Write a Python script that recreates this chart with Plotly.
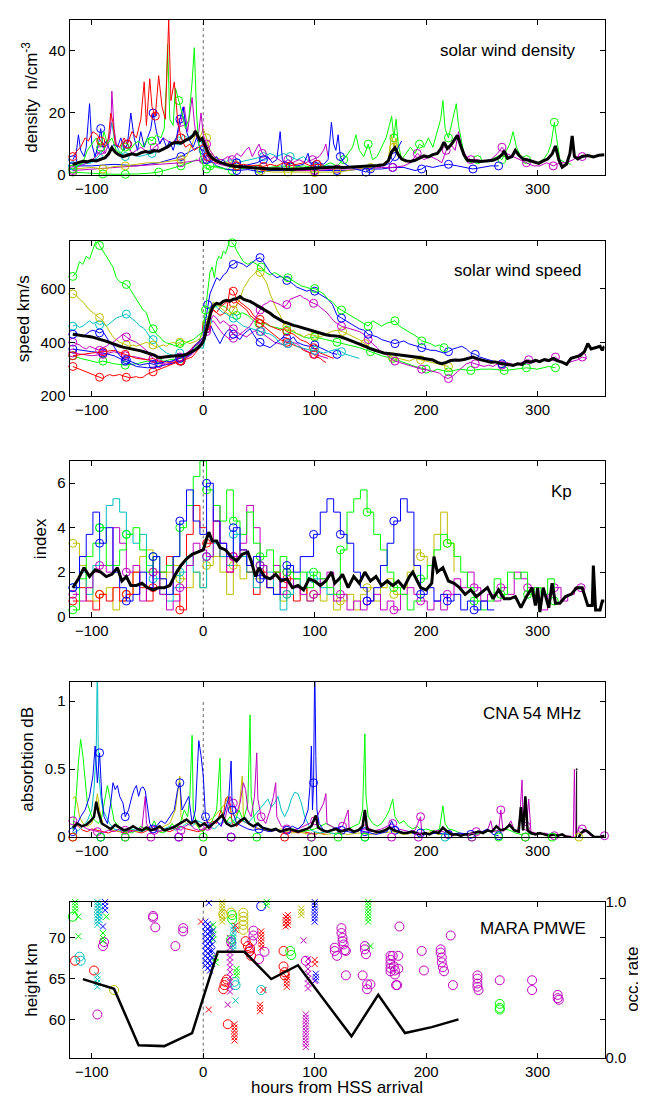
import plotly.graph_objects as go

FONT = "Liberation Sans, Arial, Helvetica, sans-serif"
COL = {"g": "#00ff00", "r": "#ff0000", "b": "#0000ff", "c": "#00bfbf", "m": "#bf00bf", "y": "#bfbf00", "k": "#000000"}

X_RANGE = [-120, 360]
X_TICKS = [-100, 0, 100, 200, 300]

# ---------------- panel 1: solar wind density ----------------
den_mean = [(-117,3.5),(-112,4.2),(-108,4.5),(-104,4.3),(-100,4.8),(-96,4.6),(-92,5.2),(-88,5.6),(-85,6.8),(-82,8.8),(-79,7.4),(-76,6.6),(-72,6.0),(-68,6.4),(-64,6.9),(-60,6.5),(-56,7.2),(-52,7.6),(-48,7.3),(-44,7.9),(-40,7.7),(-36,8.4),(-32,9.1),(-28,10.2),(-24,10.6),(-20,10.3),(-16,11.2),(-12,11.8),(-9,12.8),(-7,14.2),(-5,12.4),(-3,11.2),(-1,11.8),(1,10.0),(3,8.2),(5,6.8),(8,5.6),(11,4.8),(15,4.1),(19,3.6),(24,3.1),(30,2.8),(36,2.6),(42,2.5),(48,2.4),(54,2.2),(60,2.0),(66,2.1),(72,1.9),(78,1.8),(84,2.0),(90,2.1),(96,2.3),(102,2.4),(108,2.6),(114,2.7),(120,2.6),(126,2.5),(132,2.6),(138,2.7),(144,2.8),(150,3.0),(156,3.1),(162,3.4),(166,4.6),(169,7.5),(172,8.8),(175,6.6),(178,5.2),(182,4.6),(186,4.4),(190,4.8),(194,5.6),(198,6.2),(202,5.9),(206,6.6),(210,7.0),(213,8.4),(216,10.6),(219,8.6),(222,9.6),(225,11.0),(228,12.8),(231,9.5),(234,6.5),(237,4.8),(242,4.6),(248,4.4),(254,4.6),(260,4.8),(264,5.4),(268,6.6),(270,7.8),(273,5.4),(277,6.0),(280,8.0),(283,6.5),(287,5.2),(292,4.8),(297,4.2),(301,3.8),(305,4.6),(309,5.2),(313,6.8),(316,9.4),(319,5.0),(322,2.6),(326,3.6),(329,7.0),(331,12.6),(333,6.0),(336,5.2),(340,6.0),(345,6.3),(350,5.9),(355,6.4),(360,6.6)]
den_r = [(-117,6),(-113,8),(-110,9),(-106,12),(-103,11),(-99,14),(-95,13),(-92,11),(-88,9),(-85,12),(-83,20),(-81,17),(-79,10),(-75,9),(-71,12),(-68,10),(-64,14),(-60,12),(-56,18),(-53,30),(-51,16),(-48,31),(-46,22),(-43,19),(-40,32),(-37,22),(-34,18),(-31,50),(-29,24),(-26,30),(-23,18),(-20,12),(-16,9),(-12,10),(-8,8),(-4,9),(0,10),(4,6),(8,5),(12,4),(18,4),(24,3.5),(30,3),(36,3.5),(42,3),(48,3.2),(54,2.8),(60,3.5),(66,3),(72,4),(78,3),(84,3.5),(90,4),(96,3),(102,3.5),(108,3.2)]
den_g1 = [(-117,2),(-112,3),(-108,4),(-104,8),(-100,10),(-96,12),(-92,9),(-89,14),(-86,10),(-82,12),(-78,8),(-74,7),(-70,9),(-66,8),(-62,10),(-58,11),(-54,9),(-50,12),(-46,11),(-42,13),(-38,12),(-35,15),(-33,30),(-32,42),(-30,18),(-27,16),(-25,28),(-22,24),(-19,20),(-16,15),(-13,18),(-10,30),(-8,41),(-6,20),(-4,10),(-2,6),(0,3),(3,2),(6,2.5),(10,3),(15,2.5),(20,2)]
den_g2 = [(-117,1),(-110,0.8),(-100,0.5),(-90,0.4),(-80,0.3),(-70,0.3),(-60,0.4),(-50,0.6),(-40,1.0),(-30,2),(-20,3),(-12,4),(-6,5),(0,4),(6,3),(12,2.5),(20,2),(26,1.5),(32,2),(40,2.5),(50,2),(60,2.5),(70,3),(80,2.5),(90,3),(100,2.5),(108,3),(114,4),(120,3),(126,5),(130,7),(134,9),(137,13),(140,8),(144,6),(148,10),(152,5),(156,6),(160,9),(164,12),(167,16),(169,19),(171,12),(173,18),(175,10),(178,5),(182,7),(186,9),(190,7),(194,10),(198,9),(202,12),(206,9),(210,14),(213,18),(215,24),(217,15),(220,12),(224,18),(227,23),(229,16),(232,10),(235,5),(240,4),(246,5),(252,4.5),(258,5),(264,6),(268,5),(272,8),(275,10),(278,14),(281,9),(285,6),(290,5),(295,4.5),(300,4),(305,5),(309,7),(312,10),(315,17),(317,12),(320,5),(325,4),(330,3.5)]
den_b1 = [(-117,5),(-114,7),(-112,13),(-110,8),(-107,6),(-105,9),(-102,23),(-100,10),(-97,6),(-94,10),(-92,15),(-90,9),(-87,11),(-84,8),(-80,10),(-77,9),(-74,12),(-71,8),(-68,10),(-65,20),(-62,12),(-59,8),(-56,14),(-53,9),(-50,12),(-47,15),(-45,20),(-42,14),(-39,10),(-36,12),(-33,9),(-30,11),(-27,8),(-24,12),(-21,18),(-18,22),(-15,14),(-12,11),(-9,9),(-6,12),(-3,9),(0,7),(3,5),(6,4),(9,5),(12,6),(15,4),(18,5),(21,3.5),(24,3),(30,4),(36,3),(42,3.5),(48,4),(54,5),(58,6),(62,4),(66,5),(69,14),(71,5),(74,3),(78,4),(84,3),(90,3.5),(94,7),(96,4),(100,3),(104,4),(108,3.5),(112,5),(115,17),(117,10),(119,8),(121,13),(123,6),(126,4),(130,3),(136,2),(142,1.5),(146,1),(150,2),(156,3),(162,3),(168,4),(172,6),(175,9),(178,11)]
den_b2 = [(-117,3),(-100,3),(-80,3.5),(-60,3),(-40,4),(-20,6),(-5,9),(0,8),(6,5),(12,3),(20,2),(30,1.5),(40,1.8),(50,1.2),(60,1.5),(70,1.5),(80,1.3),(90,1.5),(100,1.5),(110,1.5),(120,1.5),(130,1.5),(140,2),(150,2),(160,2),(170,2.5),(180,2.5),(190,1.5),(196,2),(200,3),(206,2.5),(212,3),(220,3.5),(228,3),(236,2.5),(242,2),(250,2.5),(258,3),(265,3)]
den_m1 = [(-117,2),(-110,3),(-104,4),(-100,5),(-96,6),(-92,8),(-88,7),(-85,10),(-83,15),(-82,27),(-80,15),(-78,10),(-75,9),(-72,8),(-68,10),(-64,7),(-60,8),(-56,9),(-52,8),(-48,7),(-44,9),(-40,10),(-36,12),(-32,11),(-28,10),(-24,12),(-20,17),(-17,22),(-14,14),(-12,20),(-10,25),(-8,17),(-6,12),(-4,14),(-2,20),(0,13),(3,10),(6,8),(10,6),(14,5),(18,5),(22,6),(26,5),(30,7),(34,6),(38,8),(41,9),(44,6),(47,8),(50,10),(53,7),(56,6),(60,5),(64,6),(68,5),(72,4),(76,5),(80,4),(86,5),(92,4),(98,5),(104,6),(108,8),(110,10),(112,6)]
den_m2 = [(-117,1.5),(-100,2),(-80,2.5),(-60,3),(-40,3.5),(-20,4),(0,5),(20,3),(40,2.5),(60,2),(80,1.5),(100,1.5),(120,2),(140,2),(160,2.5),(170,2.5),(180,3),(186,4),(192,7),(198,5),(204,6),(210,5),(214,4),(218,8),(222,10),(226,8),(229,14),(232,9),(236,6),(240,5),(246,5),(252,4.5),(258,5),(264,7),(268,9),(272,7),(278,6),(284,5),(290,4),(296,3),(302,3),(308,4),(314,3),(320,4),(326,4),(332,5),(336,6),(340,6)]
den_c = [(-117,3),(-110,3.5),(-100,4),(-94,6),(-90,8),(-86,10),(-82,17),(-80,12),(-76,8),(-70,6),(-64,7),(-58,6),(-52,6.5),(-46,7),(-40,8),(-34,9),(-28,10),(-22,11),(-18,13),(-14,12),(-10,13),(-6,14),(-3,12),(0,9),(4,6),(8,5),(12,4.5),(18,4),(24,5),(30,4),(36,4.5),(42,5),(48,5.5),(54,6),(60,7),(66,6),(72,7),(78,6),(84,5),(90,6),(96,4),(102,3.5),(108,3),(114,3),(120,2.5)]
den_y = [(-117,2),(-100,2.5),(-90,2),(-80,2.8),(-70,3),(-60,3.5),(-50,4),(-40,4),(-30,4.5),(-20,5),(-15,6),(-10,10),(-6,14),(-3,12),(0,15),(3,12),(6,8),(10,6),(16,5),(22,4),(28,3.5),(34,3),(40,2.5),(46,2),(52,1.5),(58,1.2),(64,1),(70,1),(76,1),(82,0.8),(88,1),(94,0.8),(100,0.8),(110,1),(120,1),(130,1.5),(140,2),(150,2.5),(160,3),(166,5),(169,13),(171,9),(173,12),(175,6),(178,5),(182,4)]

# ---------------- panel 2: solar wind speed ----------------
sp_mean = [(-117,430),(-112,428),(-108,425),(-104,422),(-100,420),(-96,416),(-92,410),(-88,405),(-84,398),(-80,392),(-76,387),(-72,382),(-68,379),(-64,376),(-60,373),(-56,368),(-52,363),(-48,358),(-44,352),(-41,345),(-38,343),(-35,345),(-31,348),(-27,349),(-23,350),(-19,351),(-15,355),(-11,362),(-7,372),(-4,382),(-1,395),(1,415),(3,450),(5,485),(7,515),(9,535),(12,545),(15,542),(18,552),(21,556),(24,553),(27,560),(30,562),(33,570),(36,560),(39,556),(42,552),(45,545),(48,538),(51,532),(54,525),(57,515),(60,508),(63,498),(66,490),(69,482),(72,476),(75,472),(78,467),(81,463),(84,460),(87,456),(90,452),(93,448),(96,444),(99,441),(102,437),(106,432),(110,428),(114,425),(118,424),(122,422),(126,416),(130,410),(134,404),(138,398),(142,392),(146,384),(150,376),(154,370),(158,364),(162,360),(166,358),(170,356),(174,355),(178,353),(182,351),(186,348),(190,345),(194,343),(198,340),(202,338),(206,334),(210,325),(214,320),(218,325),(222,332),(226,334),(230,333),(234,336),(238,341),(242,345),(246,338),(250,333),(254,330),(258,326),(262,327),(266,322),(270,319),(274,317),(278,314),(282,320),(286,318),(290,330),(294,326),(298,333),(302,328),(306,336),(310,332),(314,340),(318,331),(322,326),(326,318),(330,340),(334,345),(338,350),(342,365),(345,395),(348,375),(352,380),(356,385),(358,370),(360,385)]
sp_g1 = [(-117,645),(-114,660),(-111,700),(-108,690),(-105,720),(-102,710),(-99,745),(-96,780),(-93,760),(-90,740),(-87,720),(-84,700),(-81,680),(-78,640),(-75,625),(-72,620),(-69,615),(-66,600),(-63,580),(-60,560),(-57,545),(-54,520),(-51,510),(-48,470),(-45,450),(-42,430),(-39,420),(-36,405),(-33,398),(-30,395),(-27,390),(-24,385),(-21,395),(-18,390),(-15,400),(-12,405),(-9,410),(-6,420),(-3,430),(0,440),(2,520),(4,600),(6,660),(8,680),(10,640),(12,700),(14,720),(16,710),(18,740),(20,730),(22,760),(24,780),(26,770),(28,760),(30,740),(33,720),(36,700),(40,690),(44,700),(48,690),(52,680),(56,660),(60,650),(64,660),(68,650),(72,640),(76,640),(80,630),(84,620),(88,610),(92,605),(96,600),(100,600),(104,590),(108,580),(112,560),(116,550),(120,530),(124,520),(128,510),(132,500),(136,490),(140,480),(144,470),(148,460),(152,480),(156,470),(160,460),(164,470),(168,475),(172,480),(176,460),(180,450),(184,440),(188,430),(192,420),(196,405),(200,400),(204,395),(208,385),(212,390),(216,380)]
sp_g2 = [(-117,350),(-110,340),(-100,330),(-95,325),(-90,330),(-80,320),(-70,315),(-60,320),(-50,330),(-40,325),(-30,335),(-20,340),(-10,360),(-4,400),(0,450),(3,470),(6,510),(10,530),(15,540),(20,530),(25,510),(30,500),(35,510),(40,500),(45,480),(50,470),(55,470),(60,460),(65,455),(70,450),(75,445),(80,440),(85,430),(90,420),(95,415),(100,420),(110,410),(120,400),(130,390),(140,380),(150,365),(160,350),(170,340),(180,325),(190,310),(200,300),(205,290),(210,300),(215,295),(220,290),(230,300),(240,295),(250,300),(260,300),(270,295),(280,300),(290,305),(300,300),(310,310),(316,305)]
sp_y = [(-117,580),(-114,575),(-111,560),(-108,550),(-105,535),(-102,520),(-99,510),(-96,500),(-93,492),(-90,480),(-87,460),(-84,440),(-81,420),(-78,410),(-75,400),(-72,395),(-69,390),(-66,385),(-63,390),(-60,385),(-57,390),(-54,395),(-51,400),(-48,395),(-45,390),(-42,380),(-39,385),(-36,390),(-33,385),(-30,395),(-27,400),(-24,395),(-21,400),(-18,405),(-15,400),(-12,395),(-9,400),(-6,405),(-3,415),(0,430),(3,470),(6,520),(9,550),(12,540),(15,530),(18,520),(21,510),(24,500),(27,520),(30,540),(33,560),(36,600),(39,620),(42,640),(45,650),(48,665),(51,660),(54,640),(57,620),(60,580),(63,550),(66,520),(69,500),(72,470),(75,460),(78,440),(81,445),(84,430),(87,430),(90,420),(95,430),(100,425),(105,420),(110,430),(115,440),(120,445),(125,440),(130,430),(135,420),(140,410),(145,395),(150,380),(155,370),(160,365),(165,355),(170,345),(175,340),(180,335),(185,330),(190,340),(195,335),(200,330),(205,325),(210,320),(215,315),(220,310)]
sp_c = [(-117,460),(-114,465),(-111,455),(-108,460),(-105,470),(-102,480),(-99,470),(-96,475),(-93,465),(-90,470),(-87,460),(-84,470),(-81,480),(-78,490),(-75,495),(-72,500),(-69,505),(-66,495),(-63,485),(-60,475),(-57,460),(-54,455),(-51,440),(-48,420),(-45,410),(-42,395),(-39,380),(-36,370),(-33,360),(-30,355),(-27,350),(-24,355),(-21,360),(-18,350),(-15,355),(-12,365),(-9,370),(-6,375),(-3,380),(0,378),(2,420),(4,480),(6,520),(8,540),(10,545),(12,530),(15,520),(18,510),(21,505),(24,495),(27,490),(30,480),(33,470),(36,460),(40,455),(44,450),(48,445),(52,440),(56,435),(60,430),(64,420),(68,400),(72,390),(76,395),(80,400),(84,385),(88,380),(92,375),(96,370),(100,370),(104,365),(108,360),(112,365),(116,370),(120,375),(124,365),(128,355),(132,350),(136,345),(140,340)]
sp_b1 = [(-117,430),(-114,435),(-111,425),(-108,420),(-105,430),(-102,440),(-99,445),(-96,440),(-93,435),(-90,440),(-87,420),(-84,400),(-81,390),(-78,370),(-75,350),(-72,340),(-69,335),(-66,330),(-63,325),(-60,320),(-57,315),(-54,318),(-51,320),(-48,322),(-45,318),(-42,320),(-39,322),(-36,325),(-33,330),(-30,328),(-27,332),(-24,335),(-21,340),(-18,345),(-15,350),(-12,360),(-9,380),(-6,395),(-3,405),(0,420),(2,480),(4,540),(6,580),(8,600),(10,620),(12,640),(15,630),(18,650),(21,660),(24,685),(27,690),(30,700),(33,695),(36,690),(39,680),(42,690),(45,700),(48,710),(51,715),(54,700),(57,680),(60,660),(63,650),(66,640),(69,645),(72,640),(75,630),(78,625),(81,615),(84,605),(87,600),(90,595),(93,590),(96,595),(100,590),(104,580),(108,570),(112,560),(116,540),(120,500),(124,490),(128,480),(132,470),(136,460),(140,450),(144,445),(148,430),(152,425),(156,420),(160,410),(164,405),(168,400),(172,395),(176,400),(180,405),(184,395),(188,390),(192,385),(196,380),(200,375),(204,370),(208,370),(212,365),(216,360),(220,365),(224,375),(228,380),(232,385),(236,375),(240,360),(244,355),(248,345),(252,340),(256,335),(260,330),(264,325),(268,320)]
sp_b2 = [(-117,375),(-110,370),(-100,365),(-90,360),(-80,350),(-70,330),(-60,310),(-50,305),(-40,310),(-30,320),(-20,330),(-10,360),(0,410),(3,450),(6,470),(9,440),(12,420),(15,395),(18,420),(21,440),(24,450),(27,430),(30,420),(33,410),(36,430),(39,440),(42,450),(45,430),(48,410),(51,400),(54,390),(57,385),(60,380),(63,390),(66,400),(69,410),(72,420),(75,415),(78,410),(81,420),(84,400),(87,395),(90,390),(95,385),(100,390),(105,380),(110,370),(115,360),(120,355)]
sp_r1 = [(-117,310),(-114,305),(-111,300),(-108,295),(-105,290),(-102,285),(-99,280),(-96,275),(-93,270),(-90,265),(-87,275),(-84,280),(-81,275),(-78,278),(-75,280),(-72,275),(-69,270),(-66,268),(-63,270),(-60,272),(-57,268),(-54,270),(-51,280),(-48,285),(-45,290),(-42,295),(-39,300),(-36,305),(-33,310),(-30,315),(-27,320),(-24,325),(-21,330),(-18,335),(-15,345),(-12,365),(-9,385),(-6,395),(-3,405),(0,420),(3,460),(6,500),(9,520),(12,510),(15,530),(18,540),(21,550),(24,560),(27,545),(30,550),(33,540),(36,530),(39,520),(42,500),(45,490),(48,480),(51,470),(54,460),(57,450),(60,440),(63,430),(66,420),(69,410),(72,405),(75,400),(78,395),(81,390),(84,385),(87,380),(90,370),(93,365),(96,360),(99,355),(102,345),(105,340),(108,330),(110,325)]
sp_r2 = [(-117,350),(-110,355),(-100,360),(-90,365),(-80,370),(-70,355),(-60,340),(-50,335),(-45,340),(-40,330),(-30,325),(-20,330),(-10,345),(-5,370),(0,400),(3,450),(6,500),(9,520),(12,510),(15,500),(18,505),(21,520),(24,600),(27,590),(30,560),(33,550),(36,540),(39,530),(42,520),(45,500),(48,490),(51,485),(54,475),(57,470),(60,460),(63,455),(66,450),(69,445),(72,450),(75,440),(78,435),(81,430),(84,420),(87,410),(90,405),(93,400),(96,390),(99,380),(102,370),(105,360),(108,355),(111,350),(114,345),(117,340)]
sp_m1 = [(-117,400),(-114,395),(-111,390),(-108,380),(-105,375),(-102,385),(-99,380),(-96,375),(-93,370),(-90,380),(-87,385),(-84,395),(-81,400),(-78,410),(-75,420),(-72,430),(-69,420),(-66,410),(-63,405),(-60,400),(-57,390),(-54,380),(-51,370),(-48,355),(-45,340),(-42,330),(-39,325),(-36,320),(-33,318),(-30,322),(-27,330),(-24,340),(-21,345),(-18,355),(-15,360),(-12,370),(-9,380),(-6,390),(-3,400),(0,410),(3,450),(6,480),(9,500),(12,490),(15,470),(18,480),(21,470),(24,460),(27,450),(30,440),(33,430),(36,440),(39,450),(42,460),(45,480),(48,500),(51,520),(54,540),(57,545),(60,555),(63,550),(66,545),(69,540),(72,530),(75,540),(78,560),(81,565),(84,570),(87,575),(90,565),(93,560),(96,550),(99,545),(102,540),(105,530),(108,520),(111,510),(114,495),(117,480),(120,470),(124,460),(128,455),(132,450),(136,445),(140,440),(144,430),(148,410),(152,395),(156,380),(160,360),(164,355),(168,340),(172,330),(176,325),(180,320),(184,315),(188,310),(192,305),(196,300),(200,298),(204,295),(208,290),(212,285),(216,270),(220,265),(224,275),(228,290),(232,305),(236,320),(240,325),(244,320),(248,315),(252,310),(256,315),(260,310),(264,320),(268,315),(272,325),(276,320),(280,315),(284,320),(288,330),(292,335),(296,325),(300,330),(304,335),(308,330),(312,340),(316,345),(320,330),(324,320),(328,325),(332,330),(336,335),(340,345),(344,340)]
sp_m2 = [(-117,360),(-110,355),(-100,350),(-90,355),(-80,365),(-70,350),(-60,345),(-50,335),(-40,320),(-30,318),(-20,330),(-10,355),(0,400),(3,440),(6,470),(9,480),(12,460),(15,445),(18,430),(21,420),(24,410),(27,415),(30,420),(33,430),(36,425),(39,420),(42,430),(45,440),(48,445),(51,440),(54,430),(57,420),(60,410),(64,400),(68,395),(72,390),(76,395),(80,400),(84,395),(88,380),(92,370),(96,360),(100,355),(104,350),(108,345),(112,340)]

# ---------------- panel 3: Kp (3-hourly values, every 6 h from -117) ----------------
KP_START = -117
kp_b = [1.3,2.7,3.7,4.7,3.3,4.0,2.0,1.3,0.7,1.0,2.0,1.3,2.7,1.7,1.0,2.7,4.3,5.7,4.3,3.7,6.0,4.3,3.3,2.7,4.0,3.0,2.3,2.7,1.7,1.3,1.0,1.7,2.3,2.0,2.7,2.7,3.7,4.7,5.3,4.7,3.7,3.3,2.0,1.3,0.7,1.3,2.3,3.3,4.3,5.3,4.7,2.3,1.0,1.3,0.7,1.0,0.7,1.0,0.3,0.7,0.3,0.7,0.3,0.3]
kp_g = [0.3,1.7,2.7,3.3,4.0,2.3,2.3,3.0,3.7,4.0,3.0,2.0,2.7,2.0,2.3,2.7,4.0,5.0,6.3,7.0,5.7,5.0,4.3,5.7,4.3,3.7,4.7,3.3,2.7,3.0,2.0,2.7,2.0,1.7,2.0,1.3,2.0,1.7,1.3,1.0,3.0,4.7,5.3,5.7,4.7,3.7,3.0,2.0,1.3,1.0,0.3,0.7,1.7,2.3,3.0,3.7,3.3,2.7,2.0,1.3,0.7,0.3,0.7,1.7,1.0,2.0,1.7,2.0,1.0,1.3,1.0,1.7,0.7]
kp_c = [1.3,2.0,1.0,2.3,4.0,5.0,5.3,4.7,3.7,3.3,3.7,2.3,1.7,1.0,0.7,1.3,2.0,2.7,2.0,1.3,2.7,3.3,2.7,2.3,3.7,2.7,2.0,1.3,2.3,2.0,1.0,0.3,1.0,1.7,1.3,2.0,1.7,1.3,1.0,1.3]
kp_r = [0.7,1.3,0.7,0.3,1.0,0.7,1.3,0.7,1.0,2.0,1.3,0.7,1.3,2.0,2.7,1.0,0.3,3.7,5.0,4.0,3.3,4.3,2.7,2.0,2.7,3.0,2.0,1.0,2.0,1.3,2.0,1.3,1.7,0.7,1.3,1.0]
kp_m = [1.0,0.7,1.3,2.0,2.3,2.0,4.0,3.3,2.0,2.3,0.7,1.3,2.0,1.0,0.3,0.7,1.3,2.3,3.3,3.0,2.7,5.0,3.3,2.0,2.7,3.3,5.0,4.0,2.3,1.7,2.3,1.0,2.0,1.3,1.0,0.7,1.0,1.7,2.0,0.7,1.0,0.3,0.7,0.3,0.7,1.0,0.3,0.7,0.3,1.0,1.3,1.0,0.7,0.3,0.7,0.3,1.0,1.7,1.3,2.0,1.3,0.7,1.0,0.7,1.3,1.0,2.0,1.7,1.3,0.7,0.3,1.0,1.3,0.7,1.0,1.3,1.3]
kp_y = [3.3,2.3,1.3,0.7,1.0,1.3,0.3,0.7,1.0,2.0,2.7,3.0,2.0,1.7,2.0,2.3,1.7,1.3,2.0,1.3,2.3,2.7,2.0,1.0,2.3,1.7,2.0,1.7,2.3,1.3,2.0,0.7,1.0,1.7,1.3,0.7,1.0,0.7,1.0,0.3,0.7,1.0,0.3,1.0,1.3,0.7,1.3,1.7,1.0,1.3,2.0,3.0,2.7,2.3,3.7,4.7,3.3,2.0]
kp_mean = [(-117,1.3),(-112,1.7),(-107,2.2),(-102,1.8),(-97,2.1),(-92,2.0),(-87,1.8),(-82,1.9),(-77,2.2),(-73,1.6),(-69,1.8),(-65,1.4),(-60,1.4),(-55,1.5),(-50,1.3),(-45,1.2),(-40,1.3),(-35,1.3),(-30,1.4),(-25,1.9),(-20,2.3),(-15,2.6),(-10,2.8),(-5,2.9),(0,3.0),(3,3.5),(5,3.8),(8,3.4),(12,3.4),(15,3.1),(20,3.0),(25,2.7),(30,2.5),(35,2.8),(40,2.9),(43,2.5),(47,1.8),(50,2.2),(55,1.8),(60,1.7),(65,1.9),(70,1.6),(75,1.7),(80,1.3),(85,1.4),(90,1.2),(95,1.7),(100,1.6),(105,1.4),(110,1.6),(115,2.0),(118,1.5),(122,1.7),(125,1.9),(130,1.3),(135,1.8),(140,1.5),(145,2.0),(150,1.6),(155,1.8),(160,1.4),(165,1.6),(170,1.4),(175,1.6),(180,1.3),(185,1.8),(188,2.0),(192,1.6),(195,1.3),(200,1.2),(205,1.5),(207,2.7),(210,2.0),(215,2.2),(220,1.6),(225,1.5),(230,1.3),(235,1.0),(240,1.2),(245,0.9),(250,1.1),(255,1.3),(260,0.8),(265,1.2),(270,0.8),(275,0.8),(280,0.9),(285,0.4),(290,0.9),(295,1.3),(298,0.5),(300,1.3),(302,0.2),(305,1.3),(310,0.4),(313,1.5),(316,0.6),(320,0.6),(325,0.9),(330,1.0),(335,1.3),(340,1.3),(345,0.5),(349,0.5),(350,2.3),(352,0.3),(356,0.3),(358,0.7),(360,0.7)]

# ---------------- panel 4: CNA 54 MHz ----------------
cna_mean = [(-117,0.07),(-113,0.10),(-109,0.08),(-105,0.09),(-101,0.12),(-98,0.15),(-96,0.26),(-94,0.18),(-91,0.10),(-87,0.08),(-83,0.06),(-79,0.09),(-75,0.07),(-71,0.05),(-67,0.06),(-63,0.08),(-59,0.06),(-55,0.05),(-51,0.07),(-47,0.05),(-43,0.06),(-39,0.08),(-35,0.05),(-31,0.06),(-27,0.07),(-23,0.09),(-19,0.11),(-15,0.13),(-11,0.10),(-7,0.12),(-3,0.08),(1,0.10),(5,0.07),(9,0.10),(13,0.13),(17,0.16),(21,0.10),(25,0.08),(29,0.09),(33,0.12),(37,0.14),(41,0.10),(45,0.08),(49,0.10),(53,0.07),(57,0.06),(61,0.05),(65,0.06),(69,0.04),(73,0.05),(77,0.06),(81,0.05),(85,0.04),(89,0.05),(93,0.06),(97,0.08),(99,0.12),(101,0.16),(103,0.07),(107,0.05),(111,0.04),(115,0.05),(119,0.06),(123,0.04),(127,0.05),(131,0.06),(135,0.04),(139,0.05),(143,0.08),(145,0.20),(147,0.06),(151,0.05),(155,0.04),(159,0.04),(163,0.05),(167,0.07),(171,0.05),(175,0.04),(179,0.03),(183,0.03),(187,0.04),(191,0.03),(195,0.02),(199,0.03),(203,0.02),(207,0.04),(211,0.03),(215,0.07),(219,0.04),(223,0.02),(227,0.02),(231,0.01),(235,0.02),(239,0.02),(243,0.03),(247,0.04),(251,0.03),(255,0.05),(259,0.04),(263,0.08),(267,0.05),(271,0.06),(275,0.09),(279,0.05),(283,0.04),(285,0.22),(287,0.05),(289,0.30),(291,0.05),(294,0.03),(298,0.02),(302,0.03),(306,0.02),(310,0.01),(314,0.02),(318,0.01),(322,0.02),(326,0.0),(330,0.0)]
cna_mean_tail = [(337,0.0),(339,0.03),(342,0.05),(345,0.04),(348,0.02),(351,0.0),(355,0.0),(360,0.01)]
cna_spike = [(335, 0.0), (335, 0.5)]
cna_g = [(-117,0.05),(-114,0.3),(-112,0.55),(-110,0.72),(-108,0.6),(-106,0.4),(-104,0.25),(-102,0.2),(-100,0.15),(-97,0.12),(-94,0.1),(-91,0.15),(-88,0.3),(-86,0.38),(-84,0.3),(-82,0.22),(-80,0.12),(-76,0.08),(-72,0.05),(-68,0.04),(-64,0.03),(-60,0.05),(-56,0.08),(-52,0.06),(-48,0.05),(-44,0.12),(-40,0.04),(-36,0.03),(-32,0.05),(-28,0.1),(-24,0.06),(-20,0.12),(-17,0.2),(-14,0.15),(-12,0.3),(-10,0.75),(-9,0.2),(-6,0.1),(-3,0.05),(0,0.04),(4,0.08),(8,0.12),(12,0.2),(15,0.58),(16,0.2),(20,0.1),(24,0.15),(28,0.1),(32,0.2),(36,0.12),(40,0.25),(42,0.9),(43,0.3),(46,0.12),(50,0.08),(55,0.06),(60,0.05),(65,0.06),(70,0.04),(75,0.05),(80,0.06),(85,0.05),(90,0.04),(95,0.05),(100,0.06),(105,0.08),(110,0.1),(115,0.08),(120,0.06),(125,0.05),(130,0.06),(135,0.08),(140,0.1),(143,0.2),(145,0.76),(146,0.3),(148,0.15),(152,0.1),(156,0.08),(160,0.1),(164,0.15),(167,0.2),(170,0.28),(172,0.15),(176,0.1),(180,0.12),(184,0.08),(188,0.06),(192,0.08),(196,0.05),(200,0.06),(204,0.05),(208,0.04),(212,0.06),(215,0.23),(217,0.1),(220,0.06),(225,0.05),(230,0.03),(235,0.02),(240,0.03),(245,0.02),(250,0.03),(255,0.04),(260,0.05),(265,0.04),(270,0.06),(275,0.05),(280,0.03),(285,0.02),(290,0.03),(295,0.02),(300,0.03),(305,0.02),(310,0.02),(315,0.01),(320,0.02)]
cna_b = [(-117,0.04),(-114,0.08),(-110,0.15),(-106,0.2),(-102,0.3),(-99,0.45),(-97,0.67),(-95,0.4),(-93,0.62),(-91,0.3),(-89,0.15),(-86,0.1),(-83,0.25),(-81,0.4),(-79,0.35),(-77,0.38),(-75,0.3),(-72,0.25),(-70,0.15),(-67,0.2),(-64,0.3),(-62,0.35),(-60,0.38),(-58,0.3),(-56,0.36),(-54,0.37),(-52,0.34),(-50,0.2),(-48,0.1),(-45,0.06),(-42,0.08),(-38,0.12),(-34,0.1),(-30,0.15),(-26,0.2),(-23,0.35),(-21,0.4),(-19,0.2),(-16,0.25),(-13,0.3),(-10,0.1),(-7,0.2),(-5,0.55),(-4,0.71),(-2,0.6),(0,0.45),(2,0.15),(5,0.08),(8,0.1),(12,0.12),(16,0.08),(20,0.2),(23,0.3),(25,0.56),(26,0.2),(30,0.1),(35,0.08),(40,0.06),(45,0.05),(50,0.06),(55,0.05),(60,0.04),(65,0.05),(70,0.04),(75,0.05),(80,0.08),(85,0.06),(90,0.1),(94,0.2),(96,0.4),(97,0.67),(98,0.2),(99,0.4),(100,1.3),(101,0.6),(102,0.2),(104,0.1),(108,0.05),(112,0.04),(116,0.06),(120,0.07),(124,0.05),(130,0.04),(135,0.03),(140,0.05),(145,0.04),(150,0.03),(155,0.02),(160,0.03),(165,0.04),(169,0.12),(172,0.05),(175,0.05),(180,0.03),(185,0.04),(190,0.02),(195,0.03),(200,0.02),(210,0.03),(220,0.02),(230,0.03),(240,0.02),(250,0.04),(255,0.06),(260,0.02),(265,0.01)]
cna_c = [(-117,0.03),(-112,0.05),(-108,0.08),(-104,0.12),(-100,0.2),(-98,0.35),(-96,0.65),(-95,1.3),(-94,0.5),(-92,0.3),(-90,0.2),(-87,0.15),(-84,0.1),(-80,0.06),(-75,0.05),(-70,0.04),(-65,0.06),(-60,0.05),(-55,0.04),(-50,0.06),(-45,0.05),(-40,0.04),(-35,0.06),(-30,0.08),(-25,0.05),(-20,0.07),(-15,0.1),(-10,0.08),(-5,0.12),(0,0.1),(5,0.08),(10,0.06),(15,0.1),(20,0.12),(25,0.1),(30,0.15),(35,0.12),(40,0.1),(45,0.15),(50,0.2),(55,0.25),(58,0.28),(61,0.22),(64,0.25),(67,0.3),(70,0.2),(73,0.15),(76,0.2),(79,0.28),(82,0.33),(85,0.32),(88,0.25),(91,0.15),(94,0.1),(97,0.05),(100,0.04),(105,0.03),(110,0.04),(115,0.03),(120,0.02)]
cna_m = [(-117,0.12),(-112,0.1),(-108,0.08),(-104,0.06),(-100,0.05),(-95,0.04),(-90,0.03),(-85,0.05),(-80,0.04),(-75,0.06),(-70,0.05),(-65,0.04),(-60,0.05),(-55,0.07),(-52,0.3),(-51,0.1),(-48,0.06),(-44,0.05),(-40,0.04),(-36,0.06),(-32,0.05),(-28,0.08),(-24,0.06),(-20,0.05),(-16,0.08),(-12,0.1),(-8,0.06),(-4,0.05),(0,0.06),(4,0.08),(8,0.1),(12,0.12),(16,0.08),(20,0.15),(24,0.3),(27,0.25),(30,0.18),(33,0.25),(36,0.4),(38,0.35),(40,0.2),(43,0.15),(46,0.3),(48,0.62),(49,0.28),(52,0.15),(56,0.1),(60,0.2),(63,0.3),(65,0.4),(66,0.15),(70,0.08),(75,0.06),(80,0.05),(85,0.06),(90,0.08),(95,0.1),(100,0.12),(105,0.2),(108,0.25),(110,0.32),(111,0.1),(115,0.08),(120,0.06),(125,0.08),(130,0.2),(131,0.05),(135,0.04),(140,0.05),(145,0.06),(150,0.04),(155,0.05),(160,0.06),(165,0.08),(170,0.1),(175,0.06),(180,0.05),(185,0.04),(190,0.05),(195,0.15),(196,0.03),(200,0.02),(205,0.03),(210,0.05),(215,0.04),(220,0.02),(225,0.02),(230,0.03),(235,0.02),(240,0.03),(245,0.04),(250,0.03),(255,0.05),(258,0.12),(260,0.04),(265,0.05),(267,0.2),(269,0.04),(273,0.08),(276,0.12),(279,0.05),(282,0.04),(284,0.15),(286,0.42),(287,0.1),(290,0.08),(292,0.28),(294,0.04),(298,0.03),(302,0.02),(306,0.03),(310,0.02),(315,0.01),(320,0.02),(325,0.01),(330,0.0),(332,0.0),(333,0.5),(334,0.0),(337,0.07),(340,0.06),(343,0.05),(346,0.02),(350,0.0),(355,0.0),(360,0.01)]
cna_y = [(-117,0.28),(-115,0.3),(-113,0.25),(-111,0.15),(-108,0.1),(-104,0.08),(-100,0.1),(-97,0.2),(-95,0.32),(-93,0.2),(-90,0.1),(-85,0.06),(-80,0.05),(-75,0.04),(-70,0.05),(-65,0.06),(-60,0.04),(-55,0.05),(-50,0.06),(-45,0.05),(-40,0.06),(-35,0.08),(-30,0.1),(-25,0.2),(-21,0.45),(-20,0.15),(-15,0.1),(-10,0.12),(-5,0.08),(0,0.1),(5,0.12),(10,0.15),(15,0.2),(20,0.25),(22,0.3),(24,0.2),(28,0.15),(32,0.2),(35,0.45),(36,0.15),(40,0.1),(45,0.08),(50,0.06),(55,0.05),(60,0.04),(65,0.05),(70,0.06),(75,0.04),(80,0.03),(85,0.04),(90,0.03),(95,0.02),(100,0.03),(110,0.02),(120,0.03),(130,0.02),(140,0.03),(150,0.02),(160,0.03),(170,0.04),(180,0.02),(190,0.03),(200,0.02),(205,0.05),(210,0.02),(220,0.02),(225,0.01)]
cna_r = [(-117,0.1),(-112,0.08),(-108,0.05),(-104,0.04),(-100,0.06),(-95,0.05),(-90,0.04),(-85,0.03),(-80,0.05),(-75,0.04),(-70,0.03),(-65,0.05),(-60,0.04),(-55,0.03),(-50,0.05),(-45,0.06),(-40,0.04),(-35,0.05),(-30,0.04),(-25,0.06),(-20,0.08),(-15,0.06),(-10,0.05),(-5,0.04),(0,0.05),(5,0.08),(8,0.12),(12,0.1),(16,0.2),(18,0.15),(20,0.28),(22,0.3),(24,0.25),(26,0.1),(30,0.08),(35,0.12),(40,0.1),(45,0.08),(50,0.06),(55,0.05),(60,0.04),(65,0.05),(70,0.04),(75,0.03),(80,0.04),(85,0.03),(90,0.04),(95,0.03),(100,0.02),(105,0.03),(110,0.02)]
cna_base_x = [-117,-117,-92,-92,-70,-70,-47,-22,-22,0,25,25,48,73,97,97,121,145,145,169,193,217,241,241,265,289,289,313,337]
cna_base_c = ["g","r","b","g","m","g","m","b","m","g","b","m","g","r","g","m","g","c","g","m","m","c","g","m","g","m","g","g","y"]

# ---------------- panel 5: MARA PMWE ----------------
occ_x = [-108, -80, -58, -35, -10, 13, 37, 61, 85, 133, 157, 181, 205, 229]
occ_rate = [0.505, 0.442, 0.08, 0.074, 0.158, 0.68, 0.68, 0.505, 0.594, 0.137, 0.404, 0.158, 0.196, 0.246]

pmwe_o_m = [(-95,60.6),(-90,69.0),(-89,69.5),(-45,72.5),(-45,72.7),(-43,71.3),(-25,69.0),(-18,71.2),(-18,70.8),(42,68.4),(44,69.6),(45,70.3),(45,70.9),(50,67.4),(55,68.3),(25,69.5),(92,67.2),(118,68.8),(118,68.4),(120,67.8),(124,71.2),(124,70.6),(125,70.0),(125,69.6),(126,69.2),(127,68.5),(128,68.4),(128,65.4),(143,65.4),(145,69.0),(145,68.6),(146,68.0),(147,64.3),(147,63.7),(150,64.3),(168,67.8),(168,67.3),(168,66.8),(168,66.3),(168,65.9),(170,67.8),(171,66.5),(172,66.0),(172,65.5),(173,64.2),(174,64.2),(175,67.8),(175,66.2),(176,71.4),(196,68.4),(198,66.0),(213,68.6),(213,68.2),(214,67.6),(214,67.0),(215,66.4),(216,65.9),(222,70.3),(224,64.2),(246,65.4),(246,65.0),(246,64.4),(246,64.0),(247,63.6),(266,64.8),(295,64.8),(295,63.6),(318,63.0),(318,62.6),(319,62.4)]
pmwe_o_r = [(-115,67.2),(-98,66.0),(18,63.7),(19,64.2),(20,64.6),(21,64.9),(22,59.4),(38,69.6),(40,69.0),(41,68.3),(42,68.7),(43,67.8),(72,68.4),(72,66.5),(73,65.8),(73,65.4)]
pmwe_o_g = [(-117,72.6),(25,69.8),(26,72.8),(26,72.3),(78,68.4),(79,67.9),(266,61.9),(266,61.4),(266,61.2)]
pmwe_o_c = [(-111,67.7),(-110,67.2),(28,64.6),(29,64.2),(52,63.6)]
pmwe_o_y = [(-80,63.6),(18,72.9),(25,73.1),(36,73.1),(36,72.6),(36,72.1),(36,71.6),(36,71.0)]
pmwe_o_b = [(52,73.9)]

pmwe_x_b = [(-88,[74.4,73.9,73.4]),(-90,[71.4]),(5,[74.3]),(2,[72.0,71.4,70.8,70.2,69.6,69.0,68.4,67.8,67.2,66.6]),(4,[71.7,71.1,70.5,69.9,69.3,68.7,68.1,67.5,66.9,66.3]),(6,[71.4,70.8,70.2,69.6,69.0,68.4,67.8,67.2,66.6,66.0]),(8,[70.8,70.0,69.2,68.4,67.6,66.8]),(100,[74.4,74.0,73.6,73.2,72.8,72.4,72.0]),(101,[65.6,65.2,64.8])]
pmwe_x_c = [(-95,[74.4,74.0,73.6,73.2,72.8,72.4,72.0,71.6]),(-93,[74.2,73.8,73.4,73.0,72.6,72.2]),(-95,[65.4,64.9,64.5,64.0]),(27,[71.4,71.0,70.6,70.2,69.8,69.4,69.0,68.6]),(29,[62.3])]
pmwe_x_g = [(-115,[74.4,74.0,73.6,73.2]),(-112,[72.6,70.2]),(-87,[72.6]),(-90,[70.6,70.0,69.6]),(9,[71.6,71.0,70.4,69.8]),(11,[67.6,67.0]),(30,[66.2,65.8,65.4]),(57,[74.4,74.0]),(148,[74.4,74.0,73.6,73.2,72.8,72.4,72.0]),(150,[69.0])]
pmwe_x_r = [(-2,[72.0]),(5,[61.2]),(28,[59.4,59.0,58.6,58.2,57.8,57.4]),(29,[71.5,71.0]),(51,[61.8,61.4,61.0]),(52,[70.8,70.4,70.0,69.6,69.2,68.8]),(54,[63.6]),(74,[72.6,72.2,71.8,71.4]),(76,[72.8,72.4,72.0,71.6]),(75,[65.2,64.8,64.4,64.0]),(100,[67.3,66.8])]
pmwe_x_m = [(22,[61.8]),(24,[70.0,69.4,68.8,68.2,67.6,67.0,66.4,65.8,65.2,64.6,64.0,63.4]),(90,[69.7]),(92,[60.6,60.2,59.8,59.4,59.0,58.6,58.2,57.8,57.4,57.0,56.6]),(94,[67.4,66.8,66.2,65.6,65.0,64.4,63.8]),(100,[64.7])]
pmwe_x_y = [(17,[74.4,74.0,73.6,73.2,72.8,72.4,72.0]),(88,[73.6,73.2,72.8])]

# ---------------- helpers ----------------
fig = go.Figure()


def split(pts):
    return [p[0] for p in pts], [p[1] for p in pts]


def day_marks(pts, phase=-117, step=24):
    xs = [p[0] for p in pts]
    out = []
    t = phase
    while t <= xs[-1] + 3:
        if t >= xs[0] - 3:
            i = min(range(len(xs)), key=lambda k: abs(xs[k] - t))
            if abs(xs[i] - t) <= 4 and pts[i] not in out:
                out.append(pts[i])
        t += step
    return out


def ax(n):
    return ("x" if n == 1 else "x%d" % n), ("y" if n == 1 else "y%d" % n)


def add_line(pts, c, n, width=1.0, shape="linear", marks=True, phase=-117):
    x, y = split(pts)
    xa, ya = ax(n)
    fig.add_trace(go.Scatter(x=x, y=y, mode="lines", line=dict(color=COL[c], width=width, shape=shape),
                             xaxis=xa, yaxis=ya, showlegend=False, hoverinfo="skip"))
    if marks:
        mx, my = split(day_marks(pts, phase))
        fig.add_trace(go.Scatter(x=mx, y=my, mode="markers", cliponaxis=False,
                                 marker=dict(symbol="circle-open", size=8, color=COL[c], line=dict(width=1)),
                                 xaxis=xa, yaxis=ya, showlegend=False, hoverinfo="skip"))


def kp_pts(vals):
    return [(KP_START + 6 * i, v) for i, v in enumerate(vals)]


# panel 1
for pts, c, ph in [(den_g2, "g", -116), (den_b2, "b", -117), (den_m2, "m", -117), (den_c, "c", -116),
                   (den_y, "y", -117), (den_m1, "m", -116), (den_b1, "b", -116), (den_g1, "g", -117), (den_r, "r", -116)]:
    add_line(pts, c, 1, phase=ph)
add_line(den_mean, "k", 1, width=3, marks=False)

# panel 2
for pts, c, ph in [(sp_g2, "g", -116), (sp_m2, "m", -116), (sp_b2, "b", -117), (sp_r1, "r", -117), (sp_r2, "r", -116),
                   (sp_c, "c", -116), (sp_y, "y", -117), (sp_m1, "m", -117), (sp_b1, "b", -116), (sp_g1, "g", -117)]:
    add_line(pts, c, 2, phase=ph)
add_line(sp_mean, "k", 2, width=3, marks=False)

# panel 3
for vals, c in [(kp_y, "y"), (kp_r, "r"), (kp_c, "c"), (kp_m, "m"), (kp_g, "g"), (kp_b, "b")]:
    add_line(kp_pts(vals), c, 3, shape="hv")
add_line(kp_mean, "k", 3, width=3, marks=False)

# panel 4
for pts, c, mk in [(cna_r, "r", False), (cna_y, "y", False), (cna_c, "c", False), (cna_g, "g", False),
                   (cna_m, "m", True), (cna_b, "b", True)]:
    add_line(pts, c, 4, marks=mk)
add_line(cna_mean, "k", 4, width=2.5, marks=False)
add_line(cna_mean_tail, "k", 4, width=2.5, marks=False)
sx, sy = split(cna_spike)
fig.add_trace(go.Scatter(x=sx, y=sy, mode="lines+markers", line=dict(color="black", width=1),
                         marker=dict(color="black", size=[0, 3]),
                         xaxis="x4", yaxis="y4", showlegend=False, hoverinfo="skip"))
fig.add_trace(go.Scatter(x=cna_base_x, y=[0.0] * len(cna_base_x), mode="markers", cliponaxis=False,
                         marker=dict(symbol="circle-open", size=8, color=[COL[c] for c in cna_base_c], line=dict(width=1)),
                         xaxis="x4", yaxis="y4", showlegend=False, hoverinfo="skip"))

# panel 5
for pts, c in [(pmwe_o_m, "m"), (pmwe_o_r, "r"), (pmwe_o_g, "g"), (pmwe_o_c, "c"), (pmwe_o_y, "y"), (pmwe_o_b, "b")]:
    x, y = split(pts)
    fig.add_trace(go.Scatter(x=x, y=y, mode="markers", cliponaxis=False,
                             marker=dict(symbol="circle-open", size=9, color=COL[c], line=dict(width=1)),
                             xaxis="x5", yaxis="y5", showlegend=False, hoverinfo="skip"))
for cols, c in [(pmwe_x_m, "m"), (pmwe_x_r, "r"), (pmwe_x_c, "c"), (pmwe_x_g, "g"), (pmwe_x_y, "y"), (pmwe_x_b, "b")]:
    x = [col[0] for col in cols for _ in col[1]]
    y = [h for col in cols for h in col[1]]
    fig.add_trace(go.Scatter(x=x, y=y, mode="markers", cliponaxis=False,
                             marker=dict(symbol="x-thin-open", size=6, color=COL[c], line=dict(width=1, color=COL[c])),
                             xaxis="x5", yaxis="y5", showlegend=False, hoverinfo="skip"))
fig.add_trace(go.Scatter(x=occ_x, y=occ_rate, mode="lines", line=dict(color="black", width=2.5),
                         xaxis="x5", yaxis="y6", showlegend=False, hoverinfo="skip"))

# ---------------- layout ----------------
# the page body keeps its default 8 px margin, so the figure is sized to fit the window
OFF = 8
W, H = 646 - OFF, 1106 - OFF


def fx(p):
    return (p - OFF) / W


def fy(p):
    return 1 - (p - OFF) / H


X_DOM = [fx(69.5), fx(604.5)]
panels_px = [(10.7, 168.7), (236, 393), (459, 617), (683, 841), (907, 1065)]
y_ranges = [[0, 50], [200, 775], [0, 7], [0, 1.145], [55.3, 74.4]]
y_ticks = [[0, 20, 40], [200, 400, 600], [0, 2, 4, 6], [0, 0.5, 1], [60, 65, 70]]
y_titles = ["density  n/cm<sup>-3</sup>", "speed km/s", "index", "absorbtion dB", "height km"]
tick_font = dict(family=FONT, size=15, color="black")
title_font = dict(family=FONT, size=17, color="black")

layout = dict(width=W, height=H, margin=dict(l=0, r=0, t=0, b=0), paper_bgcolor="white",
              plot_bgcolor="white", font=dict(family=FONT, color="black"), showlegend=False)
for i in range(5):
    n = "" if i == 0 else str(i + 1)
    top, bot = panels_px[i]
    layout["xaxis" + n] = dict(domain=X_DOM, anchor="y" + n, range=X_RANGE, tickvals=X_TICKS,
                               showline=True, linecolor="black", linewidth=1, mirror="ticks",
                               ticks="inside", ticklen=5, tickcolor="black", showgrid=False,
                               zeroline=False, tickfont=tick_font)
    layout["yaxis" + n] = dict(domain=[fy(bot), fy(top)], anchor="x" + n, range=y_ranges[i],
                               tickvals=y_ticks[i], showline=True, linecolor="black", linewidth=1,
                               mirror="ticks", ticks="inside", ticklen=5, tickcolor="black",
                               showgrid=False, zeroline=False, tickfont=tick_font,
                               title=dict(text=y_titles[i], font=title_font, standoff=6))
layout["yaxis4"]["ticktext"] = ["0", "0.5", "1"]
layout["yaxis6"] = dict(overlaying="y5", side="right", anchor="x5", range=[0, 1], tickvals=[0, 1],
                        ticktext=["0.0", "1.0"], showline=False, showgrid=False, zeroline=False,
                        ticks="", tickfont=tick_font)
fig.update_layout(**layout)

# dotted line at HSS arrival
for i in range(5):
    n = "" if i == 0 else str(i + 1)
    y_top = 1.0 / 1.145 if i == 3 else 1.0
    fig.add_shape(type="line", xref="x" + n, yref="y" + n + " domain", x0=0, x1=0, y0=0, y1=y_top,
                  line=dict(color="#666666", width=1, dash="dot"), layer="below")

labels = [("solar wind density", 578, 42), ("solar wind speed", 584, 265.5), ("Kp", 574, 490),
          ("CNA 54 MHz", 583, 715), ("MARA PMWE", 588, 934)]
for txt, xr, yc in labels:
    fig.add_annotation(text=txt, xref="paper", yref="paper", x=fx(xr), y=fy(yc), xanchor="right",
                       yanchor="middle", showarrow=False, font=dict(family=FONT, size=17, color="black"))
fig.add_annotation(text="hours from HSS arrival", xref="paper", yref="paper", x=fx(337), y=fy(1095),
                   xanchor="center", yanchor="middle", showarrow=False, font=title_font)
fig.add_annotation(text="occ. rate", xref="paper", yref="paper", x=fx(633), y=fy(986), textangle=-90,
                   xanchor="center", yanchor="middle", showarrow=False, font=title_font)

fig.write_html("out.html")
